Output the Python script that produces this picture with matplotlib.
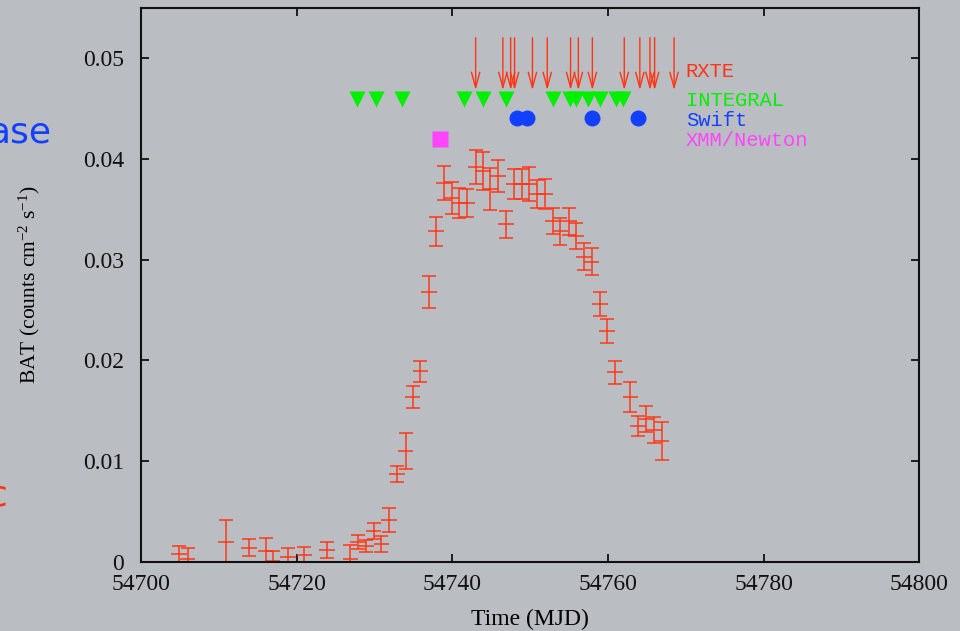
import numpy as np
import matplotlib
matplotlib.use("Agg")
import matplotlib.pyplot as plt

plt.rcParams["mathtext.fontset"] = "custom"
plt.rcParams["mathtext.rm"] = "Liberation Serif"
plt.rcParams["mathtext.it"] = "Liberation Serif:italic"
plt.rcParams["mathtext.default"] = "rm"

# BAT light curve (daily averages)
mjd = [54704.9, 54706.0, 54710.9, 54713.9, 54716.0, 54716.9, 54718.9, 54721.0,
       54723.9, 54726.9, 54727.9, 54728.9, 54729.9, 54730.9, 54731.9, 54732.9,
       54734.0, 54734.9, 54735.9, 54737.0, 54737.9, 54738.9, 54739.9, 54740.9,
       54741.9, 54743.0, 54743.95, 54744.9, 54745.9, 54746.9, 54747.9, 54748.9,
       54749.9, 54750.9, 54751.9, 54752.95, 54753.9, 54755.0, 54755.9, 54756.9,
       54757.9, 54758.95, 54759.9, 54760.9, 54762.9, 54763.9, 54764.95, 54765.9,
       54766.9]
rate = [0.0008, 0.0003, 0.0020, 0.0014, 0.0011, 0.0001, 0.0005, 0.0007,
        0.0012, 0.0003, 0.0020, 0.0016, 0.0031, 0.0018, 0.0042, 0.0087,
        0.0110, 0.0164, 0.0189, 0.0268, 0.0328, 0.0376, 0.0361, 0.0356,
        0.0356, 0.0392, 0.0388, 0.0370, 0.0383, 0.0335, 0.0375, 0.0375,
        0.0375, 0.0365, 0.0365, 0.0338, 0.0328, 0.0338, 0.0323, 0.0303,
        0.0298, 0.0256, 0.0229, 0.0188, 0.0164, 0.0135, 0.0142, 0.0131,
        0.0120]
rate_err = [0.0008, 0.0011, 0.0022, 0.00085, 0.0013, 0.0010, 0.0009, 0.0008,
            0.0008, 0.0014, 0.0007, 0.0006, 0.0008, 0.0008, 0.0012, 0.0008,
            0.0018, 0.0011, 0.0010, 0.0016, 0.00145, 0.0017, 0.0016, 0.0015,
            0.0014, 0.0017, 0.0019, 0.0021, 0.0016, 0.00135, 0.0015, 0.0015,
            0.0017, 0.0014, 0.0015, 0.0013, 0.00135, 0.00135, 0.0013, 0.0013,
            0.0013, 0.0012, 0.0012, 0.0011, 0.0015, 0.0010, 0.0013, 0.00125,
            0.0019]
time_err = 1.0

# pointed observations
rxte_mjd = [54743.0, 54746.5, 54747.5, 54748.0, 54750.3, 54752.2, 54755.2,
            54756.2, 54758.0, 54762.1, 54764.1, 54765.4, 54766.0, 54768.5]
integral_mjd = [54727.8, 54730.2, 54733.5, 54741.45, 54743.9, 54746.9, 54752.9,
                54755.1, 54755.9, 54757.5, 54759.0, 54761.0, 54761.9]
swift_mjd = [54748.3, 54749.6, 54758.0, 54763.9]
xmm_mjd = [54738.4]

rxte_top, rxte_tip = 0.0520, 0.0468
integral_level = 0.0459
swift_level = 0.0440
xmm_level = 0.0420

bg = "#babdc2"
red = "#ff3414"
green = "#00f000"
blue = "#1240ff"
magenta = "#ff44ff"

fig = plt.figure(figsize=(9.6, 6.31), dpi=100, facecolor=bg)
ax = fig.add_axes([0.1469, 0.1094, 0.8106, 0.8787])
ax.set_facecolor(bg)

ax.errorbar(mjd, rate, yerr=rate_err, fmt="none", ecolor=red, elinewidth=1.2,
            capsize=5, capthick=1.2, alpha=0.9)
ax.errorbar(mjd, rate, xerr=time_err, fmt="none", ecolor=red, elinewidth=1.2,
            capsize=0, alpha=0.9)

for t in rxte_mjd:
    ax.annotate("", xy=(t, rxte_tip), xytext=(t, rxte_top),
                arrowprops=dict(arrowstyle="->,head_length=1.1,head_width=0.3",
                                color=red, lw=1.0, mutation_scale=10,
                                shrinkA=0, shrinkB=0))
ax.plot(integral_mjd, [integral_level] * len(integral_mjd), "v", color=green,
        ms=11.5, mec="none")
ax.plot(swift_mjd, [swift_level] * len(swift_mjd), "o", color=blue,
        ms=11.5, mec="none")
ax.plot(xmm_mjd, [xmm_level] * len(xmm_mjd), "s", color=magenta,
        ms=11.5, mec="none")

mono = "Liberation Mono"
ax.text(54770.0, 0.0487, "RXTE", color=red, family=mono, fontsize=14.8, va="center")
ax.text(54770.0, 0.0458, "INTEGRAL", color=green, family=mono, fontsize=14.8, va="center")
ax.text(54770.0, 0.0438, "Swift", color=blue, family=mono, fontsize=14.8, va="center")
ax.text(54770.0, 0.0418, "XMM/Newton", color=magenta, family=mono, fontsize=14.8, va="center")

ax.set_xlim(54700, 54800)
ax.set_ylim(0, 0.055)
ax.set_xticks([54700, 54720, 54740, 54760, 54780, 54800])
ax.set_yticks([0, 0.01, 0.02, 0.03, 0.04, 0.05])
ax.set_yticklabels(["0", "0.01", "0.02", "0.03", "0.04", "0.05"])
ax.tick_params(direction="in", length=6, width=1.3, top=True, right=True,
               labelsize=17, colors="#111111")
ax.tick_params(axis="x", pad=9)
ax.tick_params(axis="y", pad=12)
for lab in ax.get_xticklabels() + ax.get_yticklabels():
    lab.set_family("Liberation Serif")
for s in ax.spines.values():
    s.set_linewidth(1.5)
    s.set_color("#111111")

ax.set_xlabel("Time (MJD)", family="Liberation Serif", fontsize=17, labelpad=10)
ax.set_ylabel("BAT (counts cm$^{-2}$ s$^{-1}$)", family="Liberation Serif",
              fontsize=15.5, labelpad=30)

# cut-off text from the slide at the left edge
fig.text(-0.012, 0.79, "ase", color=blue, fontsize=26, family="DejaVu Sans",
         va="center")
fig.text(-0.012, 0.215, "c", color=red, fontsize=26, family="DejaVu Sans",
         va="center")

fig.savefig("out.png", dpi=100, facecolor=bg)
